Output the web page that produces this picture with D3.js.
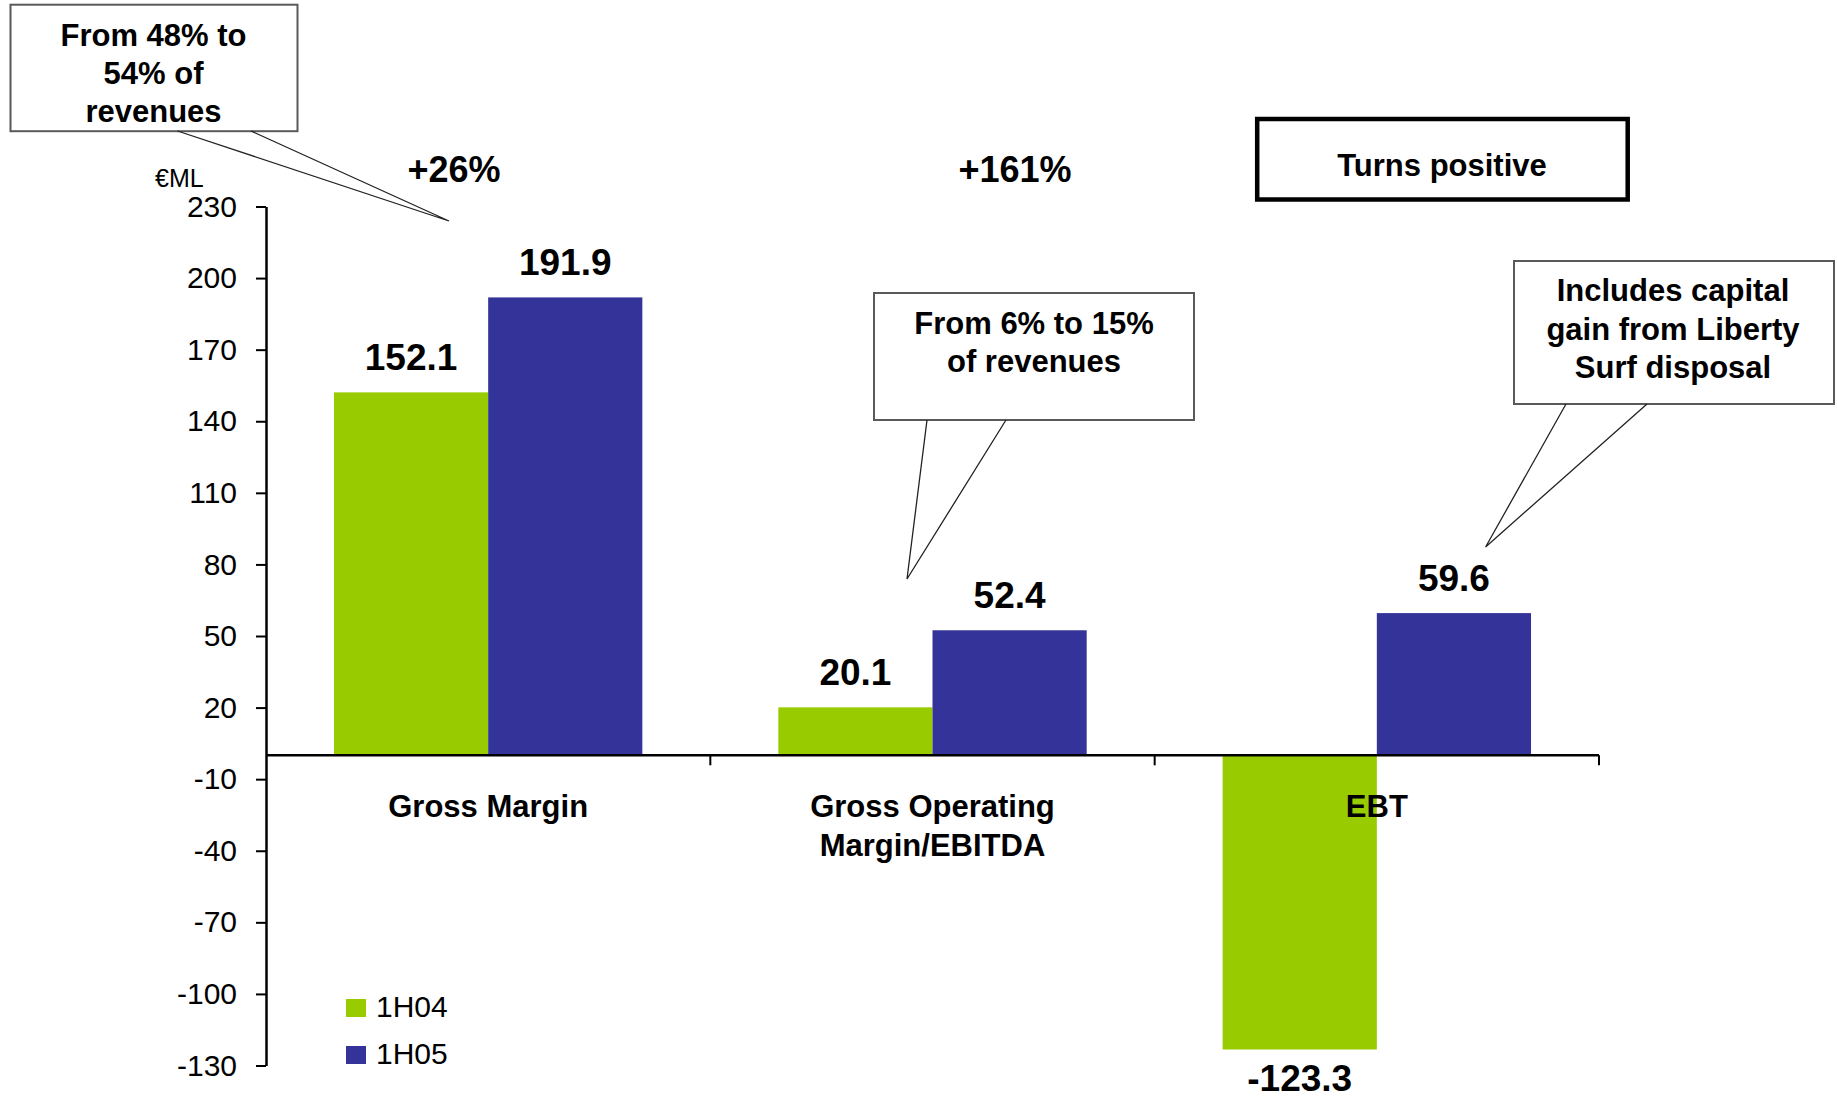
<!DOCTYPE html>
<html>
<head>
<meta charset="utf-8">
<script src="https://cdn.jsdelivr.net/npm/d3@7"></script>
<style>
  html, body { margin: 0; padding: 0; background: #ffffff; }
  svg { display: block; font-family: "Liberation Sans", Arial, sans-serif; }
</style>
</head>
<body>
<svg id="chart" width="1837" height="1099"></svg>
<script>
// Half-year results, € millions
const categories = [["Gross Margin"], ["Gross Operating", "Margin/EBITDA"], ["EBT"]];
const series = ["1H04", "1H05"];
const values1H04 = [152.1, 20.1, -123.3];
const values1H05 = [191.9, 52.4, 59.6];
const yTicks = [230, 200, 170, 140, 110, 80, 50, 20, -10, -40, -70, -100, -130];
const colors = ["#99cc00", "#333399"];

const svg = d3.select("#chart");

const catKeys = categories.map(c => c.join(" "));
const x0 = d3.scaleBand().domain(catKeys).range([266, 1599]).padding(0);
const bw = x0.bandwidth();
const x1 = d3.scaleBand().domain(series).range([bw * 0.153, bw * 0.847]).padding(0);
const y = d3.scaleLinear().domain([-130, 230]).range([1065.5, 206.5]);

const rows = catKeys.map((k, i) => ({
  key: k, lines: categories[i],
  vals: [values1H04[i], values1H05[i]]
}));

// Bars
const groups = svg.append("g").selectAll("g").data(rows).join("g")
  .attr("transform", d => `translate(${x0(d.key)},0)`);

groups.selectAll("rect").data(d => d.vals.map((v, j) => ({ s: series[j], v, j })))
  .join("rect")
  .attr("x", d => x1(d.s))
  .attr("width", x1.bandwidth())
  .attr("y", d => y(Math.max(0, d.v)))
  .attr("height", d => Math.abs(y(d.v) - y(0)))
  .attr("fill", d => colors[d.j]);

// Value labels
groups.selectAll("text.val").data(d => d.vals.map((v, j) => ({ s: series[j], v, j })))
  .join("text")
  .attr("class", "val")
  .attr("x", d => x1(d.s) + x1.bandwidth() / 2)
  .attr("y", d => d.v >= 0 ? y(d.v) - 22 : y(d.v) + 41)
  .attr("text-anchor", "middle")
  .attr("font-size", 37)
  .attr("font-weight", "bold")
  .attr("fill", "#000")
  .text(d => d.v.toFixed(1));

// Y axis
const yAxis = d3.axisLeft(y).tickValues(yTicks).tickSize(10).tickSizeOuter(0).tickPadding(19)
  .tickFormat(d => String(d));
const gy = svg.append("g").attr("transform", "translate(266,0)").call(yAxis);
gy.select(".domain").attr("stroke", "#000").attr("stroke-width", 2.5);
gy.selectAll(".tick line").attr("stroke", "#000").attr("stroke-width", 2);
gy.selectAll(".tick text").attr("font-size", 30).attr("fill", "#000")
  .attr("font-family", "\"Liberation Sans\", Arial, sans-serif");

// X axis along zero, with ticks on category boundaries
const gx = svg.append("g").attr("transform", `translate(0,${y(0)})`);
gx.append("line").attr("x1", x0.range()[0]).attr("x2", x0.range()[1])
  .attr("stroke", "#000").attr("stroke-width", 2.5);
gx.selectAll("line.tk").data(catKeys).join("line")
  .attr("class", "tk")
  .attr("x1", d => x0(d) + bw).attr("x2", d => x0(d) + bw)
  .attr("y1", 0).attr("y2", 10)
  .attr("stroke", "#000").attr("stroke-width", 2);

// Category labels
const catText = svg.append("g").selectAll("text").data(rows).join("text")
  .attr("text-anchor", "middle")
  .attr("font-size", 31)
  .attr("font-weight", "bold")
  .attr("fill", "#000");
catText.selectAll("tspan").data(d => d.lines.map(l => ({ l, c: x0(d.key) + bw / 2 })))
  .join("tspan")
  .attr("x", d => d.c)
  .attr("y", (d, i) => 817 + i * 39)
  .text(d => d.l);

// Unit label
svg.append("text").attr("x", 155).attr("y", 187)
  .attr("font-size", 25).attr("fill", "#000").text("€ML");

// Legend
const legend = svg.append("g").selectAll("g").data(series).join("g")
  .attr("transform", (d, i) => `translate(346,${999 + i * 47})`);
legend.append("rect").attr("width", 20).attr("height", 18).attr("fill", (d, i) => colors[i]);
legend.append("text").attr("x", 30).attr("y", 18)
  .attr("font-size", 30).attr("fill", "#000").text(d => d);

// Growth annotations
const growth = [{ t: "+26%", x: 454 }, { t: "+161%", x: 1015 }];
svg.append("g").selectAll("text").data(growth).join("text")
  .attr("x", d => d.x).attr("y", 182)
  .attr("text-anchor", "middle")
  .attr("font-size", 36).attr("font-weight", "bold").attr("fill", "#000")
  .text(d => d.t);

// "Turns positive" framed note
svg.append("rect").attr("x", 1257.2).attr("y", 119).attr("width", 370.5).attr("height", 80.5)
  .attr("fill", "#fff").attr("stroke", "#000").attr("stroke-width", 4.5);
svg.append("text").attr("x", 1442).attr("y", 176).attr("text-anchor", "middle")
  .attr("font-size", 31).attr("font-weight", "bold").attr("fill", "#000")
  .text("Turns positive");

// Speech-bubble callouts
const callouts = [
  { box: [10.5, 4.7, 287, 126.5], ptr: [[177.5, 131], [449, 221], [251, 131]],
    cx: 153.5, lines: ["From 48% to", "54% of", "revenues"], y0: 46, lh: 38 },
  { box: [874, 293, 320, 127], ptr: [[927, 420], [907, 579], [1006, 420]],
    cx: 1034, lines: ["From 6% to 15%", "of revenues"], y0: 334, lh: 38 },
  { box: [1514, 261, 320, 143], ptr: [[1566, 404], [1485.6, 547], [1647, 404]],
    cx: 1673, lines: ["Includes capital", "gain from Liberty", "Surf disposal"], y0: 301, lh: 38.5 }
];
const co = svg.append("g").selectAll("g").data(callouts).join("g");
co.append("rect")
  .attr("x", d => d.box[0]).attr("y", d => d.box[1])
  .attr("width", d => d.box[2]).attr("height", d => d.box[3])
  .attr("fill", "#fff").attr("stroke", "#595959").attr("stroke-width", 2);
co.append("path")
  .attr("d", d => d3.line()(d.ptr))
  .attr("fill", "none").attr("stroke", "#222").attr("stroke-width", 1.3);
co.append("text")
  .attr("text-anchor", "middle").attr("font-size", 31).attr("font-weight", "bold").attr("fill", "#000")
  .selectAll("tspan").data(d => d.lines.map((l, i) => ({ l, x: d.cx, y: d.y0 + i * d.lh })))
  .join("tspan")
  .attr("x", d => d.x).attr("y", d => d.y)
  .text(d => d.l);
</script>
</body>
</html>
